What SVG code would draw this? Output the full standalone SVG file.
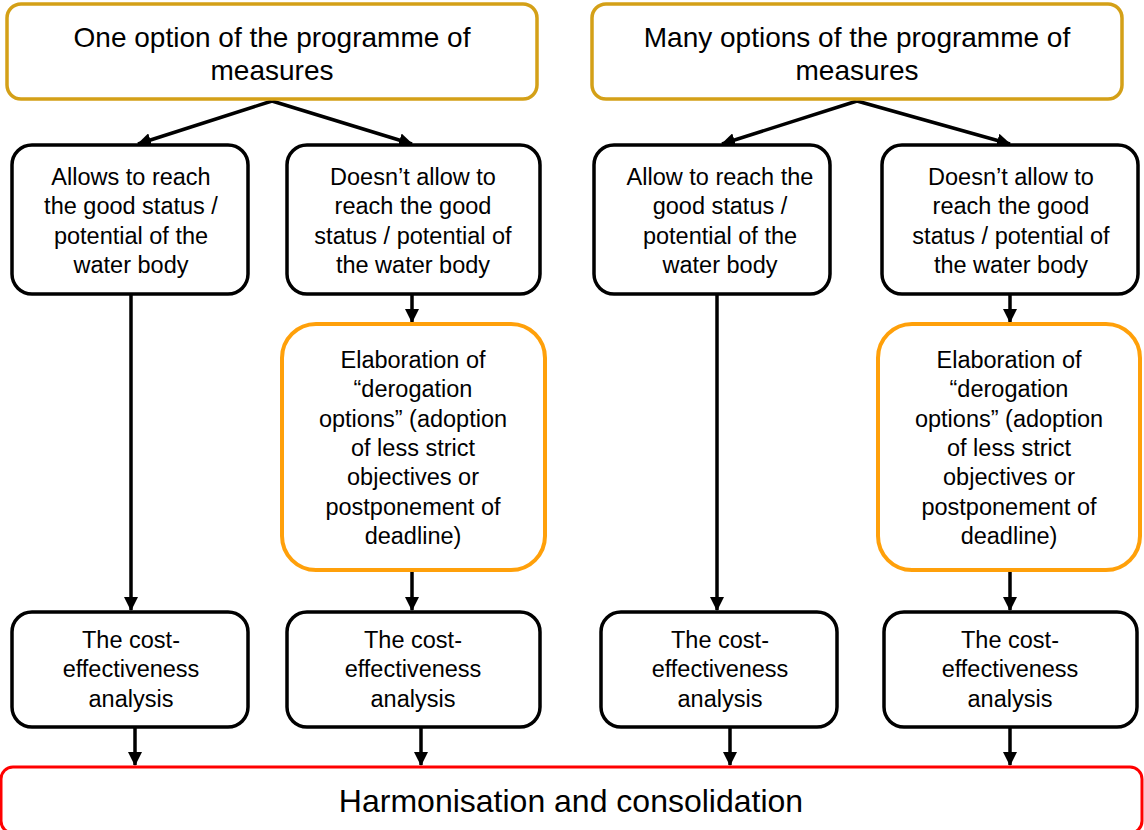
<svg xmlns="http://www.w3.org/2000/svg" width="1144" height="830" viewBox="0 0 1144 830">
  <style>
    .box { fill: #fff; stroke: #000; stroke-width: 3.5; }
    .top { fill: #fff; stroke: #D4A017; stroke-width: 3.5; }
    .derog { fill: #fff; stroke: #FFA00A; stroke-width: 4; }
    .final { fill: #fff; stroke: #FF0000; stroke-width: 3; }
    text { font-family: "Liberation Sans", Arial, sans-serif; fill: #000; text-anchor: middle; }
    .t27 { font-size: 28px; }
    .t23 { font-size: 23.5px; }
    .t31 { font-size: 32px; }
    .conn { stroke: #000; stroke-width: 3.5; fill: none; marker-end: url(#arrow); }
  </style>
  <defs>
    <marker id="arrow" markerUnits="userSpaceOnUse" markerWidth="14" markerHeight="14" viewBox="0 0 14 14" refX="13" refY="7" orient="auto">
      <path d="M0,0 L14,7 L0,14 Z" fill="#000"/>
    </marker>
  </defs>
  <rect width="1144" height="830" fill="#fff"/>

  <!-- connectors -->
  <g id="connectors">
    <path class="conn" d="M272,101 L138,144"/>
    <path class="conn" d="M272,101 L412,144"/>
    <path class="conn" d="M857,101 L722,144"/>
    <path class="conn" d="M857,101 L1010,144"/>
    <path class="conn" d="M131,295 L131,610"/>
    <path class="conn" d="M412,295 L412,322"/>
    <path class="conn" d="M412,571 L412,610"/>
    <path class="conn" d="M717,295 L717,610"/>
    <path class="conn" d="M1010,295 L1010,322"/>
    <path class="conn" d="M1010,571 L1010,610"/>
    <path class="conn" d="M135,728 L135,765"/>
    <path class="conn" d="M421,728 L421,765"/>
    <path class="conn" d="M730,728 L730,765"/>
    <path class="conn" d="M1010,728 L1010,765"/>
  </g>

  <!-- left branch: one option -->
  <g id="one-option">
    <rect class="top" x="7" y="4" width="530" height="95" rx="14"/>
    <text class="t27" x="272" y="47">One option of the programme of</text>
    <text class="t27" x="272" y="80">measures</text>
  </g>
  <g id="allows">
    <rect class="box" x="12" y="145" width="236" height="149" rx="20"/>
    <text class="t23" x="131" y="185">Allows to reach</text>
    <text class="t23" x="131" y="214">the good status /</text>
    <text class="t23" x="131" y="244">potential of the</text>
    <text class="t23" x="131" y="273">water body</text>
  </g>
  <g id="doesnt-allow-1">
    <rect class="box" x="287" y="145" width="253" height="149" rx="20"/>
    <text class="t23" x="413" y="185">Doesn’t allow to</text>
    <text class="t23" x="413" y="214">reach the good</text>
    <text class="t23" x="413" y="244">status / potential of</text>
    <text class="t23" x="413" y="273">the water body</text>
  </g>
  <g id="derogation-1">
    <rect class="derog" x="282" y="324" width="263" height="246" rx="34"/>
    <text class="t23" x="413" y="368">Elaboration of</text>
    <text class="t23" x="413" y="397">“derogation</text>
    <text class="t23" x="413" y="427">options” (adoption</text>
    <text class="t23" x="413" y="456">of less strict</text>
    <text class="t23" x="413" y="485">objectives or</text>
    <text class="t23" x="413" y="515">postponement of</text>
    <text class="t23" x="413" y="544">deadline)</text>
  </g>
  <g id="cea-1">
    <rect class="box" x="12" y="612" width="236" height="115" rx="20"/>
    <text class="t23" x="131" y="648">The cost-</text>
    <text class="t23" x="131" y="677">effectiveness</text>
    <text class="t23" x="131" y="707">analysis</text>
  </g>
  <g id="cea-2">
    <rect class="box" x="287" y="612" width="253" height="115" rx="20"/>
    <text class="t23" x="413" y="648">The cost-</text>
    <text class="t23" x="413" y="677">effectiveness</text>
    <text class="t23" x="413" y="707">analysis</text>
  </g>

  <!-- right branch: many options -->
  <g id="many-options">
    <rect class="top" x="592" y="4" width="530" height="95" rx="14"/>
    <text class="t27" x="857" y="47">Many options of the programme of</text>
    <text class="t27" x="857" y="80">measures</text>
  </g>
  <g id="allow">
    <rect class="box" x="594" y="145" width="236" height="149" rx="20"/>
    <text class="t23" x="720" y="185">Allow to reach the</text>
    <text class="t23" x="720" y="214">good status /</text>
    <text class="t23" x="720" y="244">potential of the</text>
    <text class="t23" x="720" y="273">water body</text>
  </g>
  <g id="doesnt-allow-2">
    <rect class="box" x="882" y="145" width="256" height="149" rx="20"/>
    <text class="t23" x="1011" y="185">Doesn’t allow to</text>
    <text class="t23" x="1011" y="214">reach the good</text>
    <text class="t23" x="1011" y="244">status / potential of</text>
    <text class="t23" x="1011" y="273">the water body</text>
  </g>
  <g id="derogation-2">
    <rect class="derog" x="878" y="324" width="262" height="246" rx="34"/>
    <text class="t23" x="1009" y="368">Elaboration of</text>
    <text class="t23" x="1009" y="397">“derogation</text>
    <text class="t23" x="1009" y="427">options” (adoption</text>
    <text class="t23" x="1009" y="456">of less strict</text>
    <text class="t23" x="1009" y="485">objectives or</text>
    <text class="t23" x="1009" y="515">postponement of</text>
    <text class="t23" x="1009" y="544">deadline)</text>
  </g>
  <g id="cea-3">
    <rect class="box" x="601" y="612" width="236" height="115" rx="20"/>
    <text class="t23" x="720" y="648">The cost-</text>
    <text class="t23" x="720" y="677">effectiveness</text>
    <text class="t23" x="720" y="707">analysis</text>
  </g>
  <g id="cea-4">
    <rect class="box" x="884" y="612" width="253" height="115" rx="20"/>
    <text class="t23" x="1010" y="648">The cost-</text>
    <text class="t23" x="1010" y="677">effectiveness</text>
    <text class="t23" x="1010" y="707">analysis</text>
  </g>

  <!-- common final step -->
  <g id="harmonisation">
    <rect class="final" x="1" y="767" width="1141" height="66" rx="12"/>
    <text class="t31" x="571" y="812">Harmonisation and consolidation</text>
  </g>
</svg>
